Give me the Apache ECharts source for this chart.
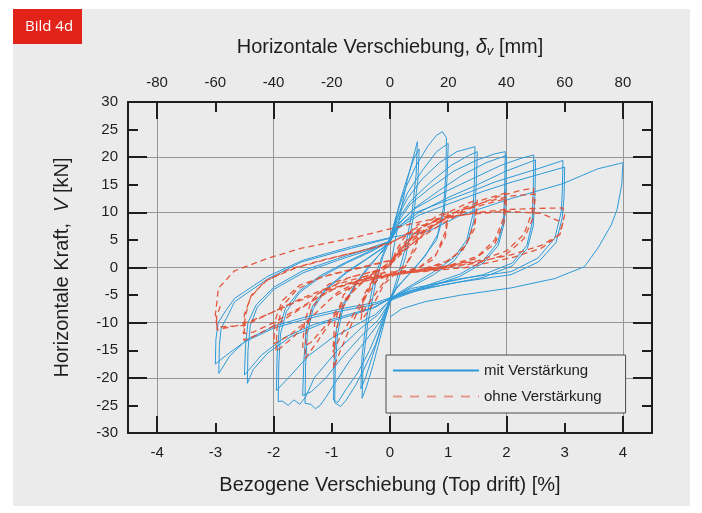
<!DOCTYPE html>
<html><head><meta charset="utf-8">
<script src="https://cdn.jsdelivr.net/npm/echarts@6/dist/echarts.min.js"></script>
<style>html,body{margin:0;padding:0;background:#fff}#c{width:702px;height:513px}</style>
</head><body><div id="c"></div><script>
// ---------- tick labels ----------
var driftTicks = [-4,-3,-2,-1,0,1,2,3,4];
var driftMajor = [-4,-2,0,2,4];
var mmTicks = [-80,-60,-40,-20,0,20,40,60,80];

// ---------- mit Verstärkung (blue), loops per amplitude, [drift %, kN] ----------
var mit05 = [[0,0],[0.1,5.5],[0.2,11],[0.3,16],[0.4,20],[0.47,22.8],[0.45,17],[0.38,10],[0.25,3],[0.12,-2],[0,-6],[-0.1,-10],[-0.2,-14],[-0.3,-18],[-0.4,-21.5],[-0.48,-23.7],[-0.46,-17],[-0.38,-10],[-0.25,-3],[-0.12,2],[0,5],[0.1,9],[0.2,13],[0.32,17],[0.42,20],[0.5,21.5],[0.48,16],[0.4,9],[0.27,2],[0.12,-3],[0,-6.5],[-0.15,-11],[-0.3,-16],[-0.42,-20],[-0.5,-22],[-0.48,-16],[-0.4,-9],[-0.27,-2],[-0.12,2.5],[0,5.5]];
var mit10 = [[0.1,9],[0.25,14],[0.45,18.5],[0.65,22],[0.8,24],[0.9,24.6],[0.97,23.5],[0.96,17],[0.92,11],[0.82,6],[0.6,2],[0.35,-1],[0.12,-3.5],[0,-5.5],[-0.1,-9],[-0.25,-14],[-0.45,-18.5],[-0.6,-21.5],[-0.75,-24],[-0.85,-25.2],[-0.95,-24.5],[-0.94,-18],[-0.9,-12],[-0.8,-7],[-0.6,-3],[-0.35,0.5],[-0.12,3],[0,5],
  [0.12,9],[0.3,13.5],[0.55,17.5],[0.8,21],[1.0,22.5],[0.98,16],[0.93,10],[0.8,5],[0.55,1.5],[0.3,-1.5],[0.1,-4],[0,-6],[-0.15,-10],[-0.35,-15],[-0.55,-19],[-0.75,-22],[-0.9,-24.5],[-0.97,-24],[-0.96,-17],[-0.92,-11],[-0.8,-6.5],[-0.55,-2.5],[-0.3,0.8],[-0.1,3.5],[0,5]];
var mit15 = [[0.1,8.5],[0.3,12.5],[0.55,16],[0.85,19],[1.15,21],[1.46,21.9],[1.45,15.5],[1.42,9.5],[1.32,5],[1.1,1.8],[0.75,-0.8],[0.4,-3],[0.12,-4.8],[0,-6],[-0.15,-9.5],[-0.4,-13],[-0.7,-17],[-0.95,-21],[-1.1,-23.5],[-1.2,-25],[-1.28,-25.6],[-1.36,-24.8],[-1.46,-24.6],[-1.45,-18],[-1.42,-12],[-1.32,-7.5],[-1.1,-4],[-0.75,-1],[-0.4,1.5],[-0.12,3.5],[0,5],
  [0.12,8.5],[0.35,12],[0.7,15.5],[1.05,18.5],[1.35,20.3],[1.5,21],[1.48,14.5],[1.44,8.5],[1.33,4.5],[1.1,1.2],[0.75,-1.3],[0.4,-3.3],[0.12,-5],[0,-6.2],[-0.2,-9.5],[-0.5,-12.5],[-0.8,-16],[-1.1,-20],[-1.35,-22.5],[-1.5,-23.2],[-1.48,-17],[-1.44,-11],[-1.33,-7],[-1.1,-3.8],[-0.75,-0.8],[-0.4,1.6],[-0.12,3.6],[0,4.8]];
var mit20 = [[0.12,8],[0.35,11.5],[0.7,14.5],[1.1,17.5],[1.5,19.5],[1.8,20.6],[1.98,21],[1.97,14.5],[1.95,8.5],[1.85,4.5],[1.6,1.2],[1.2,-1.2],[0.7,-3],[0.3,-4.5],[0,-5.8],[-0.2,-8.5],[-0.5,-11],[-0.9,-15],[-1.3,-20],[-1.45,-23.5],[-1.55,-24.8],[-1.65,-24],[-1.75,-25],[-1.85,-24.2],[-1.92,-24.3],[-1.91,-17.5],[-1.88,-12],[-1.78,-8],[-1.55,-4.5],[-1.2,-1.8],[-0.75,0.8],[-0.3,3],[0,4.8],
  [0.15,8],[0.45,11],[0.85,14],[1.25,16.8],[1.65,19],[2.0,20.3],[1.99,14],[1.96,8],[1.86,4],[1.6,0.8],[1.2,-1.6],[0.7,-3.4],[0.3,-4.8],[0,-6],[-0.25,-8.5],[-0.6,-10.5],[-1.0,-12.8],[-1.4,-16],[-1.7,-19.5],[-1.95,-22.3],[-1.94,-16],[-1.9,-11],[-1.8,-7.5],[-1.55,-4.2],[-1.2,-1.5],[-0.75,1],[-0.3,3.2],[0,4.8]];
var mit25 = [[0.12,7.5],[0.4,10.5],[0.9,13.5],[1.4,16],[1.9,18.5],[2.25,19.8],[2.47,20.4],[2.46,14],[2.44,8],[2.35,4],[2.1,0.8],[1.6,-1.3],[0.9,-2.8],[0.35,-4.2],[0,-5.5],[-0.25,-7.2],[-0.7,-8.8],[-1.2,-10.3],[-1.7,-12.5],[-2.1,-15.5],[-2.35,-18.5],[-2.45,-21],[-2.44,-15],[-2.4,-10.5],[-2.28,-7.2],[-2.0,-4],[-1.5,-1],[-0.9,1.3],[-0.35,3.2],[0,4.6],
  [0.15,7.5],[0.5,10],[1.0,12.7],[1.5,15],[2.0,17.5],[2.5,19.5],[2.49,13.5],[2.46,7.5],[2.36,3.5],[2.1,0.3],[1.6,-1.8],[0.9,-3.2],[0.35,-4.5],[0,-5.7],[-0.3,-7.3],[-0.8,-8.8],[-1.3,-10.3],[-1.8,-12.6],[-2.2,-15.8],[-2.5,-19.5],[-2.48,-14],[-2.44,-10],[-2.3,-6.8],[-2.0,-3.6],[-1.5,-0.6],[-0.9,1.6],[-0.35,3.5],[0,4.8]];
var mit30 = [[0.12,7],[0.4,9.8],[0.94,12],[1.4,13.8],[1.8,15.5],[2.2,16.8],[2.54,17.9],[2.8,18.8],[2.97,19.4],[2.96,14],[2.94,10],[2.83,5.3],[2.54,1.7],[2.08,-0.75],[1.22,-2],[0.37,-3.8],[0,-5.5],[-0.23,-6.3],[-0.85,-7.5],[-1.46,-9],[-1.96,-10.5],[-2.45,-13],[-2.75,-16],[-2.94,-19.2],[-2.93,-14],[-2.9,-11],[-2.78,-8.6],[-2.67,-6.2],[-2.09,-2],[-1.52,1],[-0.66,3.5],[0,5.3],
  [0.15,7.2],[0.5,9.5],[1.0,11.5],[1.6,13.8],[2.1,15.5],[2.6,17],[3.0,18.2],[2.99,13],[2.96,9],[2.85,4.5],[2.55,1],[2.08,-1.3],[1.22,-2.6],[0.37,-4.2],[0,-5.8],[-0.3,-6.8],[-0.9,-8],[-1.5,-9.5],[-2.0,-11],[-2.5,-13.5],[-2.8,-15.8],[-3.0,-17.5],[-2.99,-13],[-2.95,-10],[-2.82,-7.8],[-2.67,-5.6],[-2.1,-1.6],[-1.5,1.3],[-0.66,3.8],[0,5.4]];
var mit40 = [[0.2,5.8],[0.65,6.5],[1.22,9.5],[2.08,12.5],[2.97,15.2],[3.57,17.9],[3.85,18.6],[4.0,19.0],[3.98,15],[3.9,10.5],[3.8,7.7],[3.57,3.5],[3.34,0.15],[2.83,-2],[2.08,-3.7],[1.22,-5],[0.6,-6.2],[0.2,-7.5],[0,-9]];

// ---------- ohne Verstärkung (red dashed) ----------
var ohne05 = [[0,0],[0.1,3],[0.25,5.5],[0.45,7.5],[0.5,8],[0.45,4.5],[0.3,1],[0.1,-1],[-0.1,-3],[-0.25,-6],[-0.45,-9],[-0.5,-9.5],[-0.45,-6],[-0.3,-2.5],[-0.1,-0.8],[0.05,1.5],[0.2,4],[0.5,7],[0.45,3.5],[0.25,0],[0,-1.2],[-0.2,-4],[-0.5,-8.5],[-0.45,-5],[-0.25,-1.5],[0,0.5]];
var ohne10 = [[0.2,3.5],[0.5,7],[0.8,9.3],[1.0,10.2],[0.95,6.5],[0.8,2.5],[0.5,0],[0.1,-1],[-0.2,-2],[-0.4,-5],[-0.65,-10],[-0.85,-15],[-0.97,-18.3],[-0.95,-13],[-0.85,-8],[-0.6,-3.5],[-0.3,-1.3],[0,0.5],[0.25,3.5],[0.6,7],[1.0,9.2],[0.95,5.5],[0.75,1.5],[0.4,-0.6],[0,-1.2],[-0.3,-2.8],[-0.6,-8],[-0.85,-12.5],[-0.98,-15.3],[-0.95,-10],[-0.8,-5],[-0.5,-2],[-0.2,-0.5],[0,1]];
var ohne15 = [[0.3,4.5],[0.6,7.5],[1.0,10],[1.3,11.5],[1.5,12.3],[1.45,8],[1.3,4],[1.0,1.2],[0.5,-0.5],[0,-1.2],[-0.4,-2],[-0.7,-5],[-1.0,-9.5],[-1.25,-13.5],[-1.46,-16.5],[-1.44,-12],[-1.35,-7.5],[-1.1,-4],[-0.7,-1.8],[-0.3,-0.8],[0,0.5],[0.35,4],[0.75,7.5],[1.1,10],[1.5,11.3],[1.45,7],[1.25,3.2],[0.9,0.6],[0.4,-0.8],[0,-1.4],[-0.45,-2.5],[-0.8,-6],[-1.1,-10.5],[-1.35,-13.5],[-1.5,-14.5],[-1.47,-10],[-1.35,-6],[-1.05,-3],[-0.6,-1.5],[-0.2,-0.5],[0,1]];
var ohne20 = [[0.4,5],[0.8,8],[1.2,10.5],[1.6,12.3],[1.98,13.5],[1.95,9],[1.8,5],[1.5,2],[1.0,0.3],[0.4,-0.8],[0,-1.4],[-0.5,-2.3],[-0.9,-4.5],[-1.3,-8.5],[-1.65,-12.5],[-1.96,-15.3],[-1.94,-11],[-1.85,-7],[-1.6,-4],[-1.2,-1.8],[-0.6,-0.3],[0,1.2],[0.4,4.5],[0.9,8],[1.4,10.8],[2.0,12.5],[1.96,8.2],[1.8,4.3],[1.45,1.5],[0.9,-0.2],[0.3,-1],[0,-1.5],[-0.5,-2.6],[-1.0,-5.5],[-1.4,-9.5],[-1.75,-12.5],[-2.0,-13.8],[-1.97,-9.5],[-1.85,-6],[-1.55,-3.2],[-1.0,-1.2],[-0.4,0.3],[0,1.3]];
var ohne25 = [[0.4,5.5],[0.9,8.5],[1.4,11],[1.9,13],[2.25,14],[2.47,14.4],[2.44,10],[2.3,6],[2.0,3],[1.5,1.2],[0.8,0],[0.2,-0.9],[-0.4,-1.8],[-0.9,-3.5],[-1.4,-6.5],[-1.9,-10],[-2.3,-12.3],[-2.51,-13.2],[-2.49,-9],[-2.4,-5.5],[-2.15,-2.5],[-1.7,-0.2],[-1.1,1.5],[-0.5,3],[0,4.5],[0.5,7],[1.0,9.5],[1.6,11.8],[2.1,13],[2.5,13.3],[2.46,9],[2.3,5.2],[2.0,2.4],[1.5,0.8],[0.8,-0.3],[0.2,-1.1],[-0.4,-2],[-1.0,-4],[-1.5,-7],[-2.0,-10],[-2.35,-11.7],[-2.52,-12],[-2.5,-8.5],[-2.38,-5],[-2.1,-2.2],[-1.6,0],[-1.0,1.7],[-0.5,3],[0,4.3]];
var ohne30 = [[0.5,7.5],[1.0,9],[1.5,10],[2.0,10.5],[2.5,10.7],[2.97,10.8],[3.0,9.5],[2.95,7.5],[2.9,5.9],[2.6,4],[2.08,2.3],[1.22,0.45],[0.37,-0.45],[-0.3,-1.2],[-0.9,-3],[-1.5,-5.5],[-2.0,-8],[-2.5,-10.5],[-2.97,-10.8],[-3.0,-8.5],[-2.97,-6],[-2.95,-3.8],[-2.67,-0.6],[-2.09,1.7],[-1.52,3.5],[-0.66,5.3],[0,7],[0.6,8.5],[1.2,9.5],[2.0,10.2],[2.6,9.8],[2.97,8.1],[2.92,6],[2.6,3.5],[2.1,1.8],[1.3,0],[0.4,-0.9],[-0.3,-1.6],[-1.0,-3.8],[-1.6,-6.2],[-2.1,-8.5],[-2.6,-10.5],[-2.97,-11.3],[-2.98,-9],[-2.9,-6.5]];

var mitData = [].concat(mit05, mit10, mit15, mit20, mit25, mit30, mit40);
var ohneData = [].concat(ohne05, ohne10, ohne15, ohne20, ohne25, ohne30);

var FONT = 'Liberation Sans';
var INK = '#1e1e1e';
var frame = {show:true, onZero:false, lineStyle:{color:INK, width:2}};
var noLine = {show:false, onZero:false};

var chart = echarts.init(document.getElementById('c'), null, {renderer:'canvas'});
chart.setOption({
  animation:false,
  backgroundColor:'#ffffff',
  textStyle:{fontFamily:FONT},
  graphic:[
    {type:'rect', z:-10, shape:{x:13,y:9,width:677,height:497}, style:{fill:'#ebebeb'}},
    {type:'rect', z:10, shape:{x:13,y:9,width:69,height:35}, style:{fill:'#e2231a'}},
    {type:'text', z:11, x:25, y:27, style:{text:'Bild 4d', fill:'#ffffff', fontSize:15, fontFamily:'Open Sans', verticalAlign:'middle'}}
  ],
  grid:{left:128, right:50, top:102, bottom:80, show:false},
  legend:{
    orient:'vertical', left:386, top:355,
    backgroundColor:'#ebebeb', borderColor:'#4a4a4a', borderWidth:1,
    padding:[8,24,9,6], itemWidth:86, itemHeight:12, itemGap:11,
    itemStyle:{opacity:0},
    textStyle:{fontSize:15, color:INK, fontFamily:FONT},
    data:[
      {name:'mit Verstärkung'},
      {name:'ohne Verstärkung', lineStyle:{opacity:0.5, type:[9,8]}}
    ]
  },
  xAxis:[
    {type:'value', position:'bottom', min:-4.5, max:4.5, axisLine:frame,
     axisTick:{show:true, inside:true, length:10, customValues:driftTicks, lineStyle:{color:INK, width:2}},
     axisLabel:{customValues:driftTicks, fontSize:15, color:INK, margin:12},
     splitLine:{show:false},
     name:'Bezogene Verschiebung (Top drift) [%]', nameLocation:'middle', nameGap:42,
     nameTextStyle:{fontSize:20, color:INK, fontFamily:FONT}},
    {type:'value', position:'top', min:-90, max:90, axisLine:frame,
     axisTick:{show:true, inside:true, length:10, customValues:mmTicks, lineStyle:{color:INK, width:2}},
     axisLabel:{customValues:mmTicks, fontSize:15, color:INK, margin:12},
     splitLine:{show:false},
     name:'Horizontale Verschiebung, {d|δ}{s|v} [mm]', nameLocation:'middle', nameGap:44,
     nameTextStyle:{fontSize:20, color:INK, fontFamily:FONT,
       rich:{d:{fontSize:20, fontStyle:'italic', color:INK, fontFamily:FONT},
             s:{fontSize:13, fontStyle:'italic', color:INK, fontFamily:FONT, verticalAlign:'bottom', padding:[9,0,0,0]}}}},
    {type:'value', position:'bottom', min:-4.5, max:4.5, axisLine:noLine,
     axisTick:{show:true, inside:true, length:17, customValues:driftMajor, lineStyle:{color:INK, width:2}},
     axisLabel:{show:false}, splitLine:{show:true, lineStyle:{color:'#959595', width:1}}},
    {type:'value', position:'top', min:-4.5, max:4.5, axisLine:noLine,
     axisTick:{show:true, inside:true, length:17, customValues:driftMajor, lineStyle:{color:INK, width:2}},
     axisLabel:{show:false}, splitLine:{show:false}}
  ],
  yAxis:[
    {type:'value', position:'left', min:-30, max:30, interval:5, axisLine:frame,
     axisTick:{show:true, inside:true, length:10, lineStyle:{color:INK, width:2}},
     axisLabel:{fontSize:15, color:INK, margin:10},
     splitLine:{show:false},
     name:'Horizontale Kraft,  {i|V} [kN]', nameLocation:'middle', nameGap:56,
     nameTextStyle:{fontSize:20, color:INK, fontFamily:FONT,
       rich:{i:{fontSize:20, fontStyle:'italic', color:INK, fontFamily:FONT}}}},
    {type:'value', position:'right', min:-30, max:30, interval:5, axisLine:frame,
     axisTick:{show:true, inside:true, length:10, lineStyle:{color:INK, width:2}},
     axisLabel:{show:false}, splitLine:{show:false}},
    {type:'value', position:'left', min:-30, max:30, interval:10, axisLine:noLine,
     axisTick:{show:true, inside:true, length:19, lineStyle:{color:INK, width:2}},
     axisLabel:{show:false}, splitLine:{show:true, lineStyle:{color:'#959595', width:1}}},
    {type:'value', position:'right', min:-30, max:30, interval:10, axisLine:noLine,
     axisTick:{show:true, inside:true, length:19, lineStyle:{color:INK, width:2}},
     axisLabel:{show:false}, splitLine:{show:false}}
  ],
  series:[
    {type:'line', name:'mit Verstärkung', xAxisIndex:0, yAxisIndex:0, data:mitData,
     symbol:'none', smooth:false, z:3,
     lineStyle:{color:'#2e9ad8', width:1}, itemStyle:{color:'#2e9ad8'}},
    {type:'line', name:'ohne Verstärkung', xAxisIndex:0, yAxisIndex:0, data:ohneData,
     symbol:'none', smooth:false, z:4,
     lineStyle:{color:'#e2472b', width:1.3, type:[6,4], opacity:0.9}, itemStyle:{color:'#e2472b'}}
  ]
});
</script></body></html>
